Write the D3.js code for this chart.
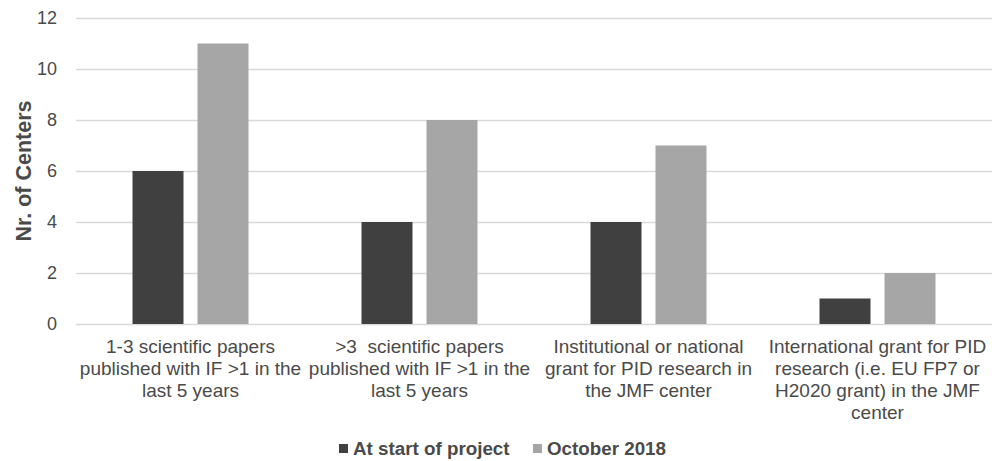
<!DOCTYPE html>
<html>
<head>
<meta charset="utf-8">
<script src="https://cdn.jsdelivr.net/npm/d3@7/dist/d3.min.js"></script>
<style>
  html, body { margin: 0; padding: 0; background: #fff; }
  svg { display: block; font-family: "Liberation Sans", Arial, sans-serif; }
  .cat-label { white-space: pre; }
</style>
</head>
<body>
<svg id="chart" width="992" height="461"></svg>
<script>
// Category labels, one array of lines per category
const categories = [
  ["1-3 scientific papers", "published with IF >1 in the", "last 5 years"],
  [">3  scientific papers", "published with IF >1 in the", "last 5 years"],
  ["Institutional or national", "grant for PID research in", "the JMF center"],
  ["International grant for PID", "research (i.e. EU FP7 or", "H2020 grant) in the JMF", "center"]
];
const seriesNames = ["At start of project", "October 2018"];
const startValues = [6, 4, 4, 1];
const october2018Values = [11, 8, 7, 2];
const yTicks = [0, 2, 4, 6, 8, 10, 12];

const colors = ["#404040", "#a6a6a6"];
const textColor = "#4a4a4a";

const svg = d3.select("#chart");
const margin = { left: 76, right: 0, top: 18, bottom: 137 };
const width = 992, height = 461;
const plotBottom = height - margin.bottom; // 324

const x = d3.scaleBand()
  .domain(d3.range(categories.length))
  .range([margin.left, width - margin.right])
  .paddingInner(0)
  .paddingOuter(0);

// Two bars per category, centred in the band with a small gap between them
const groupWidth = 116;
const inner = d3.scaleBand()
  .domain(d3.range(seriesNames.length))
  .range([(x.bandwidth() - groupWidth) / 2, (x.bandwidth() + groupWidth) / 2])
  .paddingInner(14 / 65)
  .paddingOuter(0);

const y = d3.scaleLinear().domain([0, 12]).range([plotBottom, margin.top]);

// Horizontal gridlines and tick labels
const yAxis = d3.axisLeft(y).tickValues(yTicks).tickSize(-(width - margin.left)).tickPadding(19);
const gy = svg.append("g").attr("transform", `translate(${margin.left},0)`).call(yAxis);
gy.select(".domain").remove();
gy.selectAll(".tick line").attr("stroke", "#d9d9d9").attr("stroke-width", 1.3);
gy.selectAll(".tick text")
  .attr("fill", textColor)
  .attr("font-size", 18)
  .attr("font-family", "'Liberation Sans', Arial, sans-serif");

// Bars
const series = [startValues, october2018Values];
series.forEach((vals, si) => {
  svg.append("g").selectAll("rect")
    .data(vals)
    .join("rect")
    .attr("x", (d, i) => x(i) + inner(si))
    .attr("width", inner.bandwidth())
    .attr("y", d => y(d))
    .attr("height", d => y(0) - y(d))
    .attr("fill", colors[si]);
});

// Category labels
const lab = svg.append("g");
categories.forEach((lines, i) => {
  const t = lab.append("text")
    .attr("class", "cat-label")
    .attr("x", x(i) + x.bandwidth() / 2)
    .attr("y", plotBottom + 29)
    .attr("text-anchor", "middle")
    .attr("fill", textColor)
    .attr("font-size", 19);
  lines.forEach((ln, k) => {
    t.append("tspan")
      .attr("x", x(i) + x.bandwidth() / 2)
      .attr("dy", k === 0 ? 0 : 22)
      .text(ln);
  });
});

// Y axis title
svg.append("text")
  .attr("transform", `translate(31,${(margin.top + plotBottom) / 2}) rotate(-90)`)
  .attr("text-anchor", "middle")
  .attr("fill", textColor)
  .attr("font-size", 21.5)
  .attr("font-weight", "bold")
  .text("Nr. of Centers");

// Legend
const legend = svg.append("g");
const legendX = [339, 533];
seriesNames.forEach((name, si) => {
  legend.append("rect")
    .attr("x", legendX[si]).attr("y", 444)
    .attr("width", 9).attr("height", 9)
    .attr("fill", colors[si]);
  legend.append("text")
    .attr("x", legendX[si] + 14).attr("y", 455)
    .attr("fill", textColor)
    .attr("font-size", 18.8)
    .attr("font-weight", "bold")
    .text(name);
});
</script>
</body>
</html>
